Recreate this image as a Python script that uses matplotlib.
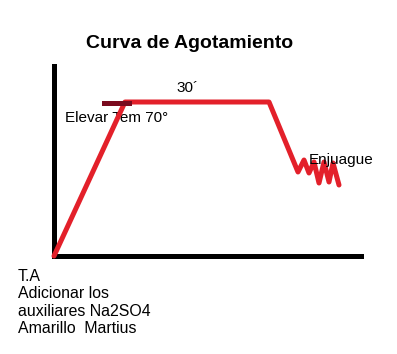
import matplotlib
matplotlib.use("Agg")
import matplotlib.pyplot as plt

plt.rcParams['font.family'] = ['Liberation Sans', 'DejaVu Sans']

# curve (arbitrary time / temperature units)
tiempo = [0, 71, 215, 244, 250, 255, 260, 265, 270, 275, 279, 285]
temperatura = [0, 154, 154, 84, 96, 83, 94, 73, 94, 74, 93, 71]
marca_x = [50, 75]
marca_y = [153, 153]

titulo = "Curva de Agotamiento"
etiqueta_meseta = "30´"
etiqueta_subida = "Elevar Tem 70°"
etiqueta_final = "Enjuague"
notas = ["T.A", "Adicionar los", "auxiliares Na2SO4", "Amarillo  Martius"]

W, H = 397, 354
fig = plt.figure(figsize=(W / 100, H / 100), dpi=100)
x0, y0, xmax, ymax = 54, 256, 307, 190
ax = fig.add_axes([x0 / W, (H - y0) / H, xmax / W, ymax / H])
ax.set_xlim(0, xmax)
ax.set_ylim(0, ymax)
for s in ['top', 'right']:
    ax.spines[s].set_visible(False)
for s in ['left', 'bottom']:
    ax.spines[s].set_linewidth(3.6)
    ax.spines[s].set_color('black')
ax.set_xticks([])
ax.set_yticks([])
ax.patch.set_alpha(0)

ax.plot(tiempo, temperatura, color='#e3202a', lw=3.6, solid_joinstyle='round',
        solid_capstyle='round', clip_on=False, zorder=3)
ax.plot(marca_x, marca_y, color='#7a0a1e', lw=3.6, clip_on=False, zorder=4)

ax.text(136, 212, titulo, ha='center', va='center', fontsize=14,
        fontweight='bold', clip_on=False)
ax.text(134, 168, etiqueta_meseta, ha='center', va='center', fontsize=11)
ax.text(11, 138, etiqueta_subida, ha='left', va='center', fontsize=11, zorder=2)
ax.text(255, 96, etiqueta_final, ha='left', va='center', fontsize=11, zorder=5)
ax.text(-36, -13, "\n".join(notas), ha='left', va='top', fontsize=11.4,
        linespacing=1.2, clip_on=False)

fig.savefig('out.png', dpi=100)
